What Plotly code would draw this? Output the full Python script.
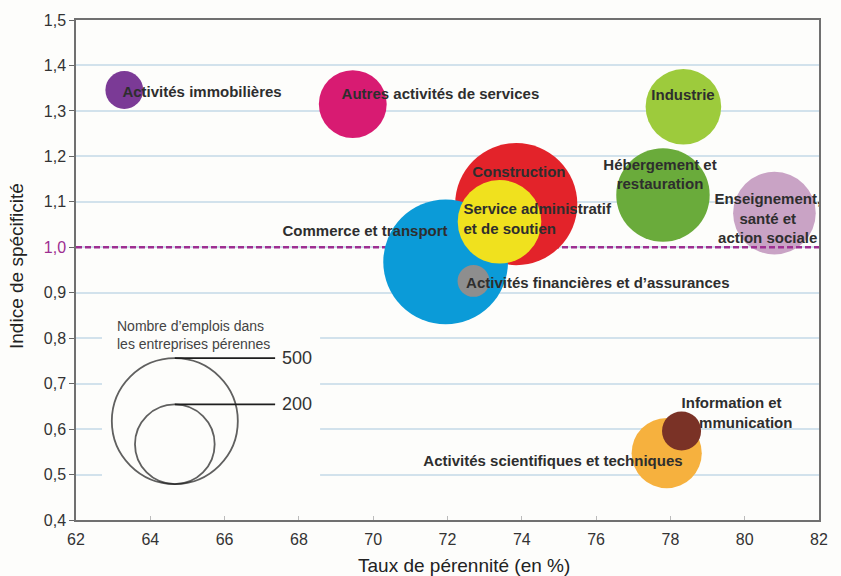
import plotly.graph_objects as go

# ---------------- data ----------------
sectors = [
    "Activités immobilières",
    "Autres activités de services",
    "Industrie",
    "Hébergement et restauration",
    "Enseignement, santé et action sociale",
    "Construction",
    "Commerce et transport",
    "Service administratif et de soutien",
    "Activités financières et d'assurances",
    "Activités scientifiques et techniques",
    "Information et communication",
]
perennite = [63.3, 69.45, 78.35, 77.8, 80.8, 73.85, 71.95, 73.4, 72.7, 77.9, 78.3]
specificite = [1.346, 1.315, 1.309, 1.115, 1.075, 1.095, 0.968, 1.056, 0.926, 0.547, 0.596]
emplois = [45, 145, 180, 275, 215, 470, 490, 220, 32, 155, 48]
colors = ["#7b3a96", "#d81b72", "#9dcb3c", "#6aab3b", "#c9a3c5", "#e3232a",
          "#0b9bd8", "#f0e11e", "#8e8e8e", "#f6b13e", "#7a3226"]

labels = [
    "Activités immobilières",
    "Autres activités de services",
    "Industrie",
    "Hébergement et<br>restauration",
    "Enseignement,<br>santé et<br>action sociale",
    "Construction",
    "Commerce et transport",
    "Service administratif<br>et de soutien",
    "Activités financières et d’assurances",
    "Activités scientifiques et techniques",
    "Information et<br>communication",
]
label_x = [63.25, 69.15, 78.34, 77.72, 80.62, 73.92, 69.78, 72.43, 72.5, 71.35, 78.3]
label_y = [1.339, 1.335, 1.333, 1.157, 1.06, 1.163, 1.034, 1.06, 0.919, 0.527, 0.633]
label_pos = ["middle right", "middle right", "middle center", "middle center",
             "middle center", "middle center", "middle center", "middle right",
             "middle right", "middle right", "middle right"]

legend_sizes = [500, 200]
legend_labels = ["500", "200"]
x_ticks = [62, 64, 66, 68, 70, 72, 74, 76, 78, 80, 82]
y_ticks = [0.4, 0.5, 0.6, 0.7, 0.8, 0.9, 1.0, 1.1, 1.2, 1.3, 1.4, 1.5]
reference_level = 1.0

# ---------------- layout constants ----------------
W, H = 841, 576
ML, MR, MT, MB = 76, 22, 20, 56
XR = [62, 82]
YR = [0.4, 1.5]
PXY = (H - MT - MB) / (YR[1] - YR[0])   # px per y unit
SIZEREF = 2 * 500 / (126 ** 2)         # 500 jobs -> 126 px diameter
TXT = "#2e2e2e"
FONT = "Liberation Sans, Arial, sans-serif"
PURPLE = "#9e2f91"
BG = "#fdfdfb"

fig = go.Figure()

def bubble(i):
    fig.add_trace(go.Scatter(
        x=[perennite[i]], y=[specificite[i]], mode="markers",
        marker=dict(size=[emplois[i]], sizemode="area", sizeref=SIZEREF,
                    color=colors[i], opacity=1, line=dict(width=0)),
        hoverinfo="text", hovertext=sectors[i], showlegend=False))

def label(idx_list):
    fig.add_trace(go.Scatter(
        x=[label_x[i] for i in idx_list], y=[label_y[i] for i in idx_list],
        mode="text", text=["<b>" + labels[i] + "</b>" for i in idx_list],
        textposition=[label_pos[i] for i in idx_list],
        textfont=dict(family=FONT, size=15, color=TXT),
        hoverinfo="skip", showlegend=False))

for i in range(5):
    bubble(i)

# dashed reference line at 1.0
fig.add_trace(go.Scatter(x=XR, y=[reference_level, reference_level], mode="lines",
                         line=dict(color=PURPLE, width=2.5, dash="6px,3px"),
                         hoverinfo="skip", showlegend=False))

for i in range(5, 10):
    bubble(i)
# the information label sits beneath its bubble
label([10])
bubble(10)
label(list(range(10)))

# ---------------- size legend ----------------
leg_x = 64.66
leg_bottom = 0.479
for s, lab in zip(legend_sizes, legend_labels):
    r_px = 0.5 * (2 * s / SIZEREF) ** 0.5
    cy = leg_bottom + r_px / PXY
    top = leg_bottom + 2 * r_px / PXY
    fig.add_trace(go.Scatter(
        x=[leg_x], y=[cy], mode="markers",
        marker=dict(size=[s], sizemode="area", sizeref=SIZEREF,
                    color="rgba(0,0,0,0)", line=dict(color="#1e1e1e", width=1.8)),
        hoverinfo="skip", showlegend=False))
    fig.add_trace(go.Scatter(
        x=[leg_x, 67.36], y=[top, top], mode="lines",
        line=dict(color="#1e1e1e", width=1.6), hoverinfo="skip", showlegend=False))
    fig.add_annotation(x=67.5, y=top, xref="x", yref="y", text=lab,
                       showarrow=False, xanchor="left", yanchor="middle",
                       font=dict(family=FONT, size=18, color="#333"))

fig.add_annotation(x=63.05, y=0.807, xref="x", yref="y",
                   text="Nombre d’emplois dans<br>les entreprises pérennes",
                   showarrow=False, xanchor="left", yanchor="middle", align="left",
                   font=dict(family=FONT, size=14, color="#444"))

# white box hiding grid behind the size legend
fig.add_shape(type="rect", xref="x", yref="y", x0=62.7, x1=68.57, y0=0.433, y1=0.873,
              fillcolor=BG, line=dict(width=0), layer="between")

# axis titles
fig.add_annotation(x=0.522, y=0, xref="paper", yref="paper", yshift=-45,
                   text="Taux de pérennité (en %)", showarrow=False,
                   xanchor="center", yanchor="middle",
                   font=dict(family=FONT, size=19, color="#222"))
fig.add_annotation(x=0, y=0.508, xref="paper", yref="paper", xshift=-60,
                   text="Indice de spécificité", showarrow=False, textangle=-90,
                   xanchor="center", yanchor="middle",
                   font=dict(family=FONT, size=19, color="#222"))

def fmt(v):
    s = f"{v:.1f}".replace(".", ",")
    if abs(v - reference_level) < 1e-9:
        return f"<span style='color:{PURPLE}'>{s}</span>"
    return s

fig.update_layout(
    width=W, height=H,
    margin=dict(l=ML, r=MR, t=MT, b=MB),
    paper_bgcolor=BG, plot_bgcolor=BG,
    font=dict(family=FONT, color=TXT),
    showlegend=False,
    xaxis=dict(range=XR, tickvals=x_ticks, ticktext=[str(v) for v in x_ticks],
               ticks="inside", ticklen=4, tickcolor="#bbbbbb", ticklabelstandoff=4,
               showline=True, linecolor="#707070", linewidth=1.5, mirror=True,
               showgrid=False, zeroline=False,
               tickfont=dict(family=FONT, size=16, color="#333")),
    yaxis=dict(range=YR, tickvals=y_ticks, ticktext=[fmt(v) for v in y_ticks],
               ticks="outside", ticklen=5, tickcolor="#666",
               showline=True, linecolor="#707070", linewidth=1.5, mirror=True,
               showgrid=True, gridcolor="#d2e2ec", gridwidth=1.5, zeroline=False,
               tickfont=dict(family=FONT, size=16, color="#333")),
)

fig.write_html(
    "out.html",
    config={"displayModeBar": False},
    post_script=("document.documentElement.style.overflow='hidden';"
                 "document.body.style.margin='0';"
                 "document.body.style.overflow='hidden';"),
)
